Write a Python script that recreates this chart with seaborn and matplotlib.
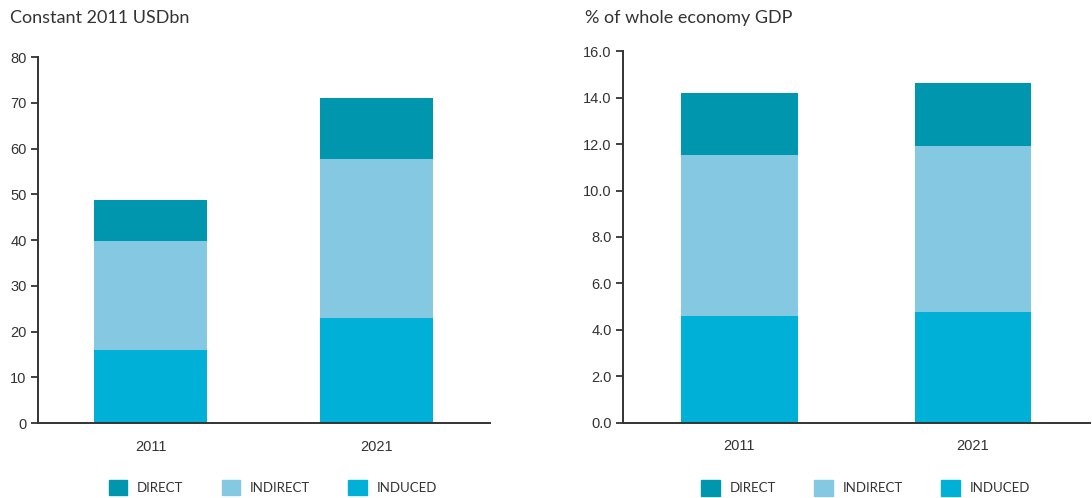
import numpy as np
import pandas as pd
import matplotlib
matplotlib.use("Agg")
import matplotlib.pyplot as plt
import seaborn as sns
from matplotlib.patches import Patch

years = ["2011", "2021"]
usd_induced = [16.0, 23.0]
usd_indirect = [23.8, 34.8]
usd_direct = [8.9, 13.2]
gdp_induced = [4.6, 4.75]
gdp_indirect = [6.95, 7.18]
gdp_direct = [2.65, 2.7]
series_names = ["DIRECT", "INDIRECT", "INDUCED"]
colors = {"DIRECT": "#0097AE", "INDIRECT": "#84C8E2", "INDUCED": "#00B0D6"}

sns.set_style("white")
plt.rcParams['font.family'] = ['Liberation Sans', 'DejaVu Sans']

fig = plt.figure(figsize=(10.92, 4.98), dpi=100)
ax1 = fig.add_axes([0.0345, 0.1506, 0.4142, 0.7349])
ax2 = fig.add_axes([0.5702, 0.1512, 0.4278, 0.7458])


def stacked(ax, induced, indirect, direct, ymax, step, fmt):
    ind = np.array(induced)
    indi = np.array(indirect)
    dire = np.array(direct)
    sns.barplot(x=years, y=ind, color=colors["INDUCED"], width=0.5, ax=ax,
                saturation=1, linewidth=0)
    sns.barplot(x=years, y=indi, bottom=ind, color=colors["INDIRECT"], width=0.5,
                ax=ax, saturation=1, linewidth=0)
    sns.barplot(x=years, y=dire, bottom=ind + indi, color=colors["DIRECT"], width=0.5,
                ax=ax, saturation=1, linewidth=0)
    ax.set_xlim(-0.5, 1.5)
    ax.set_ylim(0, ymax)
    ticks = np.arange(0, ymax + step / 2, step)
    ax.set_yticks(ticks)
    ax.set_yticklabels([fmt.format(t) for t in ticks])
    ax.set_xticks([0, 1])
    ax.set_xticklabels(years)
    ax.set_xticks([-0.5, 0.5, 1.5], minor=True)
    ax.tick_params(axis='x', which='major', length=0, pad=12, labelsize=10.5, labelcolor="#333333")
    ax.tick_params(axis='x', which='minor', length=5, width=1.3, color="#333333", direction='out')
    ax.tick_params(axis='y', length=5, width=1.3, color="#333333", direction='out',
                   labelsize=10.5, labelcolor="#333333", left=True, pad=3)
    sns.despine(ax=ax)
    for s in ["left", "bottom"]:
        ax.spines[s].set_color("#333333")
        ax.spines[s].set_linewidth(1.4)
    ax.set_xlabel("")
    ax.set_ylabel("")
    handles = [Patch(color=colors[n], label=n) for n in series_names]
    ax.legend(handles=handles, loc='upper center', bbox_to_anchor=(0.52, -0.155),
              ncol=3, frameon=False, handlelength=1.4, handleheight=1.4,
              columnspacing=2.9, handletextpad=0.75, labelcolor="#333333",
              borderaxespad=0, borderpad=0,
              prop={'family': ['Lato', 'DejaVu Sans'], 'size': 9.5})


stacked(ax1, usd_induced, usd_indirect, usd_direct, 80, 10, "{:.0f}")
stacked(ax2, gdp_induced, gdp_indirect, gdp_direct, 16, 2, "{:.1f}")

fig.text(0.009, 0.963, "Constant 2011 USDbn", fontsize=13, color="#333333",
         family=['Lato', 'DejaVu Sans'], va='center', ha='left')
fig.text(0.536, 0.963, "% of whole economy GDP", fontsize=13, color="#333333",
         family=['Lato', 'DejaVu Sans'], va='center', ha='left')

fig.savefig("out.png", dpi=100)
